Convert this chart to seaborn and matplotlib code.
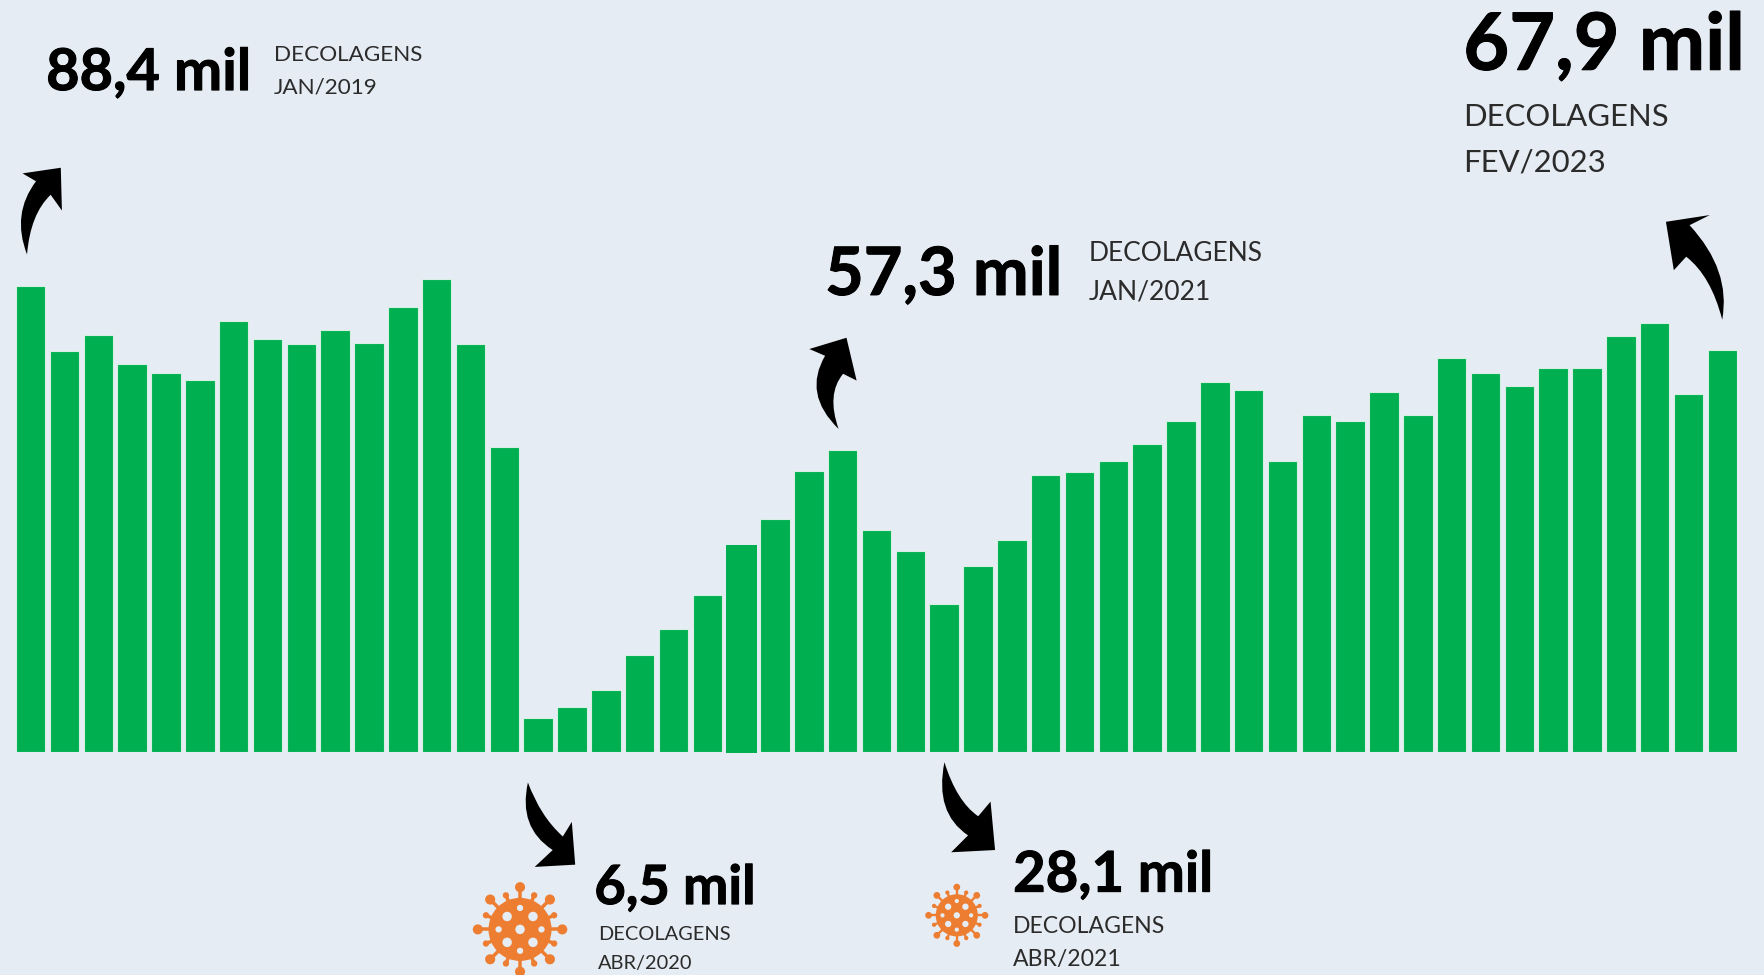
import numpy as np
import pandas as pd
import seaborn as sns
import matplotlib.pyplot as plt
import matplotlib.patheffects as pe
from matplotlib.path import Path
from matplotlib.patches import PathPatch, Circle

# monthly take-offs, thousands (jan/2019 to mar/2023)
meses = ['jan/19', 'fev/19', 'mar/19', 'abr/19', 'mai/19', 'jun/19', 'jul/19', 'ago/19', 'set/19', 'out/19', 'nov/19', 'dez/19',
         'jan/20', 'fev/20', 'mar/20', 'abr/20', 'mai/20', 'jun/20', 'jul/20', 'ago/20', 'set/20', 'out/20', 'nov/20', 'dez/20',
         'jan/21', 'fev/21', 'mar/21', 'abr/21', 'mai/21', 'jun/21', 'jul/21', 'ago/21', 'set/21', 'out/21', 'nov/21', 'dez/21',
         'jan/22', 'fev/22', 'mar/22', 'abr/22', 'mai/22', 'jun/22', 'jul/22', 'ago/22', 'set/22', 'out/22', 'nov/22', 'dez/22',
         'jan/23', 'fev/23', 'mar/23']
decolagens = [88.4, 76.0, 79.2, 73.6, 71.9, 70.6, 81.8, 78.3, 77.5, 80.0, 77.7, 84.5,
              89.7, 77.5, 57.8, 6.5, 8.6, 11.8, 18.4, 23.3, 29.7, 39.2, 44.3, 53.3,
              57.3, 42.2, 38.1, 28.1, 35.3, 40.3, 52.5, 53.1, 55.3, 58.5, 62.8, 70.2,
              68.7, 55.3, 64.0, 62.8, 68.3, 64.0, 74.8, 72.0, 69.4, 72.8, 72.8, 79.0,
              81.4, 67.9, 76.2]

FUNDO = '#E6ECF3'
VERDE = '#00B050'
LARANJA = '#ED7D31'

sns.set_theme(style='white')
plt.rcParams['font.family'] = ['Lato', 'DejaVu Sans']

fig = plt.figure(figsize=(17.65, 9.75), dpi=100, facecolor=FUNDO)

# bars: axes bottom edge is the baseline of the chart
ax = fig.add_axes([16 / 1765, (975 - 752) / 975, 1721 / 1765, 752 / 975])
df = pd.DataFrame({'mes': meses, 'decolagens': decolagens})
sns.barplot(data=df, x='mes', y='decolagens', color=VERDE, saturation=1, width=0.87,
            edgecolor='#D6EFE2', linewidth=0.8, ax=ax)
ax.set_xlim(-0.435, len(meses) - 1 + 0.435)
ax.set_ylim(0, 142.7)
ax.axis('off')

# the out/20 bar is a bit wider and sticks out under the baseline in the original
barra = ax.patches[meses.index('out/20')]
barra.set_x(barra.get_x() - 0.02)
barra.set_width(barra.get_width() + 0.05)
barra.set_y(-0.15)
barra.set_height(barra.get_height() + 0.15)
barra.set_linewidth(0)
barra.set_clip_on(False)

# overlay for the callouts, units follow the 1568 wide layout
over = fig.add_axes([0, 0, 1, 1])
over.set_xlim(0, 1568)
over.set_ylim(866, 0)
over.axis('off')
over.patch.set_alpha(0)


def callout(valor, x, y, size, linha1, linha2, x2, y1, y2, size2):
    t = over.text(x, y, valor, fontsize=size, fontweight='bold', color='black', va='baseline', ha='left')
    t.set_path_effects([pe.withStroke(linewidth=0.7, foreground='black')])
    over.text(x2, y1, linha1, fontsize=size2, color='#2B2B2B', va='baseline', ha='left')
    over.text(x2, y2, linha2, fontsize=size2, color='#2B2B2B', va='baseline', ha='left')


callout('88,4 mil', 41, 80, 41.5, 'DECOLAGENS', 'JAN/2019', 243, 54, 83, 16.2)
callout('57,3 mil', 733, 262, 48, 'DECOLAGENS', 'JAN/2021', 967, 232, 266, 19)
callout('67,9 mil', 1300, 62, 57, 'DECOLAGENS', 'FEV/2023', 1300, 112, 152, 22.3)
callout('6,5 mil', 528, 803, 39, 'DECOLAGENS', 'ABR/2020', 531, 835, 861, 14.4)
callout('28,1 mil', 900, 792, 40.5, 'DECOLAGENS', 'ABR/2021', 900, 829, 858, 16.6)


def seta(cauda, c1, pesc1, farpa1, ponta, farpa2, pesc2, c2):
    verts = [cauda, c1, pesc1, farpa1, ponta, farpa2, pesc2, c2, cauda]
    codes = [Path.MOVETO, Path.CURVE3, Path.CURVE3, Path.LINETO, Path.LINETO,
             Path.LINETO, Path.LINETO, Path.CURVE3, Path.CURVE3]
    over.add_patch(PathPatch(Path(verts, codes), facecolor='black', edgecolor='none'))


seta((24, 226), (10, 190), (32, 161), (20, 154), (54, 149), (55, 187), (45, 173), (27, 190))
seta((745, 381), (713, 350), (733, 316), (719, 310), (752, 300), (761, 338), (749, 332), (734, 350))
seta((1530, 284), (1538, 240), (1501, 200), (1519, 191), (1480, 197), (1487, 240), (1498, 228), (1520, 245))
seta((469, 695), (460, 735), (491, 755), (475, 770), (511, 768), (508, 730), (500, 743), (480, 725))
seta((839, 677), (830, 722), (860, 742), (845, 757), (884, 755), (880, 712), (869, 725), (850, 712))


def espinho(cx, cy, ang, dist, raio, r):
    dx, dy = np.cos(ang), np.sin(ang)
    over.plot([cx + dx * r * 0.9, cx + dx * r * dist], [cy + dy * r * 0.9, cy + dy * r * dist],
              color=LARANJA, lw=r * 0.09, solid_capstyle='butt')
    over.add_patch(Circle((cx + dx * r * dist, cy + dy * r * dist), r * raio, color=LARANJA, lw=0))


def virus(cx, cy, r):
    for ang in np.deg2rad(np.arange(0, 360, 45)):
        espinho(cx, cy, ang, 1.34, 0.16, r)
    for ang in np.deg2rad(np.arange(22.5, 360, 45)):
        espinho(cx, cy, ang, 1.17, 0.10, r)
    over.add_patch(Circle((cx, cy), r, color=LARANJA, lw=0))
    over.add_patch(Circle((cx, cy), r * 0.15, color=FUNDO, lw=0))
    for ang in np.deg2rad(np.arange(45, 360, 90)):
        over.add_patch(Circle((cx + np.cos(ang) * r * 0.58, cy + np.sin(ang) * r * 0.58), r * 0.15, color=FUNDO, lw=0))
    for ang in np.deg2rad(np.arange(0, 360, 90)):
        over.add_patch(Circle((cx + np.cos(ang) * r * 0.68, cy + np.sin(ang) * r * 0.68), r * 0.10, color=FUNDO, lw=0))


virus(462, 825.5, 28)
virus(850, 813, 18.7)

fig.savefig('out.png', dpi=100, facecolor=FUNDO)
